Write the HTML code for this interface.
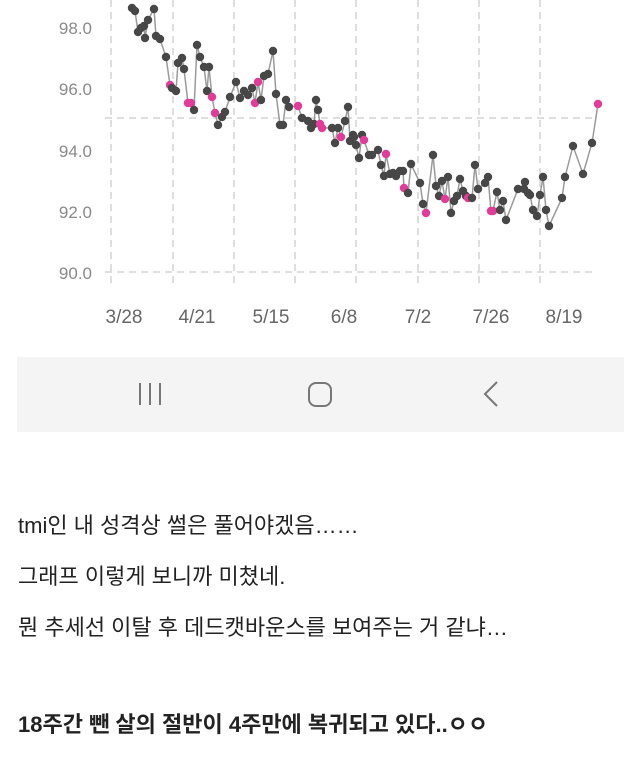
<!DOCTYPE html>
<html><head><meta charset="utf-8"><style>
html,body{margin:0;padding:0;background:#fff;width:640px;height:784px;overflow:hidden;font-family:"Liberation Sans","Noto Sans CJK KR",sans-serif;}
.t{position:absolute;left:18px;font-size:22px;color:#222;white-space:nowrap;}
</style></head><body>
<svg id="c" width="640" height="784" style="position:absolute;left:0;top:0">
<g stroke="#cccccc" stroke-width="1.3" stroke-dasharray="7,5" fill="none">
<line x1="105" y1="272" x2="593" y2="272"/>
<line x1="105" y1="118" x2="593" y2="118"/>
<line x1="111" y1="0" x2="111" y2="287"/>
<line x1="173" y1="0" x2="173" y2="287"/>
<line x1="234" y1="0" x2="234" y2="287"/>
<line x1="295" y1="0" x2="295" y2="287"/>
<line x1="356" y1="0" x2="356" y2="287"/>
<line x1="418" y1="0" x2="418" y2="287"/>
<line x1="479" y1="0" x2="479" y2="287"/>
<line x1="540" y1="0" x2="540" y2="287"/>
</g>
<g font-size="17" fill="#8a8a8a" text-anchor="end" font-family="Liberation Sans,sans-serif">
<text x="92" y="34">98.0</text><text x="92" y="95">96.0</text><text x="92" y="157">94.0</text><text x="92" y="218">92.0</text><text x="92" y="279">90.0</text>
</g>
<g font-size="19" fill="#666" text-anchor="middle" font-family="Liberation Sans,sans-serif">
<text x="124" y="323">3/28</text><text x="197" y="323">4/21</text><text x="271" y="323">5/15</text><text x="344" y="323">6/8</text><text x="418" y="323">7/2</text><text x="491" y="323">7/26</text><text x="564" y="323">8/19</text>
</g>
<polyline id="pl" fill="none" stroke="#9a9a9a" stroke-width="1.5"/>
<g id="pts"></g>
<rect x="17" y="357" width="607" height="75" fill="#f4f4f4"/>
<g stroke="#777" stroke-width="2" fill="none">
<line x1="140" y1="383" x2="140" y2="405"/><line x1="150" y1="383" x2="150" y2="405"/><line x1="160" y1="383" x2="160" y2="405"/>
<rect x="309" y="383" width="22" height="23" rx="7"/>
<polyline points="497,382 485,394 497,406"/>
</g>
</svg>
<div class="t" style="top:508px">tmi인 내 성격상 썰은 풀어야겠음……</div>
<div class="t" style="top:559px">그래프 이렇게 보니까 미쳤네.</div>
<div class="t" style="top:610px">뭔 추세선 이탈 후 데드캣바운스를 보여주는 거 같냐…</div>
<div class="t" style="top:707px;font-weight:bold">18주간 뺀 살의 절반이 4주만에 복귀되고 있다..ㅇㅇ</div>
<script>
var d=[[132,8],[135,11],[138,32],[141,28],[144,26],[145,38],[148,20],[154,9],[156,36],[160,39],[166,57],[170,85,1],[172,88],[176,91],[178,63],[182,58],[184,69],[188,103,1],[191,103,1],[194,110],[197,45],[200,57],[204,67],[207,91],[209,67],[212,97,1],[215,113,1],[218,125],[222,117],[225,112],[230,97],[236,82],[240,98],[244,91],[248,95],[252,88],[255,103,1],[258,82,1],[261,100],[264,76],[268,74],[273,51],[276,94],[280,125],[283,125],[286,100],[289,107],[298,106,1],[302,118],[308,121],[311,128],[314,124],[316,100],[318,110],[320,124,1],[322,128,1],[332,128],[335,143],[338,128],[341,137,1],[345,121],[348,107],[350,141],[353,135],[354,137],[356,145],[359,158],[362,135],[364,140,1],[369,155],[372,155],[378,150],[381,165],[384,176],[386,154,1],[390,174],[393,173],[396,176],[400,171],[403,171],[404,188,1],[408,193],[411,164],[420,183],[423,204],[426,213,1],[433,155],[436,186],[439,196],[442,181],[445,199,1],[448,177],[451,213],[454,201],[457,196],[460,179],[463,191],[466,196],[468,198,1],[472,198],[475,165],[478,189],[485,183],[488,177],[491,211,1],[493,211,1],[497,192],[500,210],[503,201],[506,220],[518,189],[524,189],[525,182],[528,193],[530,195],[533,210],[537,216],[540,195],[543,177],[546,210],[549,226],[562,198],[565,177],[573,146],[583,174],[592,143],[598,104,1]];
document.getElementById('pl').setAttribute('points',d.map(p=>p[0]+','+p[1]).join(' '));
var g=document.getElementById('pts'),s='';
d.forEach(p=>{s+='<circle cx="'+p[0]+'" cy="'+p[1]+'" r="4.2" fill="'+(p[2]?'#e23b9a':'#474747')+'"/>';});
g.innerHTML=s;
</script>
</body></html>
